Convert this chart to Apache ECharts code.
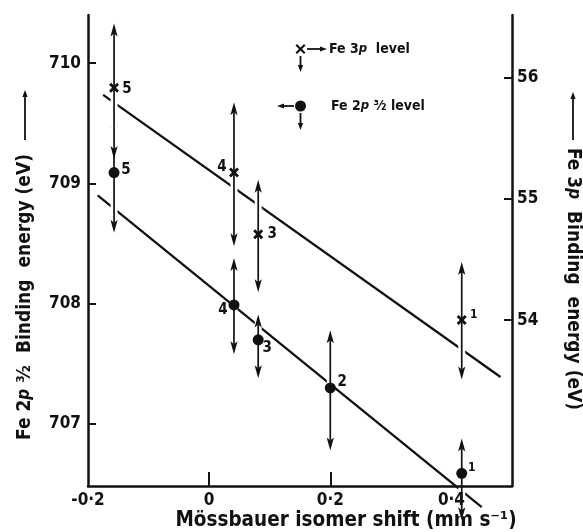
<!DOCTYPE html>
<html>
<head>
    <meta charset="utf-8">
    <title>Fe binding energy vs Mössbauer isomer shift</title>
    <script src="https://cdn.jsdelivr.net/npm/echarts@6/dist/echarts.min.js"></script>
    <style>
        * {
            margin: 0;
            padding: 0
        }

        html, body {
            width: 100%;
            height: 100%;
            background: #fff;
        }

        #main {
            width: 583px;
            height: 532px;
        }
    </style>
</head>
<body>
<div id="main"></div>
<script type="text/javascript">
    /*-------------------- data --------------------*/
    // sample numbers
    var sampleNo = ['1', '2', '3', '4', '5'];
    // Mössbauer isomer shift (mm s-1)
    var isomerShift = [0.417, 0.200, 0.081, 0.041, -0.157];
    // Fe 2p3/2 binding energy (eV), left axis, with error bar ends
    var fe2p = [706.59, 707.30, 707.70, 707.99, 709.09];
    var fe2pHigh = [706.88, 707.78, 707.91, 708.38, 709.57];
    var fe2pLow = [706.20, 706.78, 707.38, 707.58, 708.59];
    // Fe 3p binding energy (eV), right axis (no value for sample 2)
    var fe3pNo = ['1', '3', '4', '5'];
    var fe3pShift = [0.417, 0.081, 0.041, -0.157];
    var fe3p = [54.00, 54.71, 55.22, 55.92];
    var fe3pHigh = [54.48, 55.16, 55.80, 56.45];
    var fe3pLow = [53.51, 54.23, 54.61, 55.33];
    // straight line fits (end points)
    var fit2pX = [-0.184, 0.450];
    var fit2pY = [708.90, 706.31];
    var fit3pX = [-0.175, 0.481];
    var fit3pY = [55.86, 53.53];
    // tick labels
    var xTicks = [-0.2, 0, 0.2, 0.4];
    var xTickMarks = [0, 0.2];
    var leftTicks = [707, 708, 709, 710];
    var rightTicks = [54, 55, 56];

    /*-------------------- styling --------------------*/
    var FONT = "'DejaVu Sans Condensed', 'DejaVu Sans', sans-serif";
    var INK = '#111';
    // label offsets (dx, dy) from each marker
    var dotLabelOffset = [[10, -5], [12, -6], [9, 8], [-11, 5], [12, -2]];
    var dotLabelSize = [12, 15, 15, 15, 15];
    var crossLabelOffset = [[12, -5], [14, 0], [-12, -5], [13, 1]];
    var crossLabelSize = [12, 15, 15, 15];
    var crossPath = 'path://M2,0 L5,3 L8,0 L10,2 L7,5 L10,8 L8,10 L5,7 L2,10 L0,8 L3,5 L0,2 Z';

    function pointItems(xs, ys, names, offsets, sizes, symSize) {
        return xs.map(function (x, i) {
            return {
                name: names[i],
                value: [x, ys[i]],
                label: {
                    position: [offsets[i][0] + symSize / 2, offsets[i][1] + symSize / 2],
                    fontSize: sizes[i]
                }
            };
        });
    }

    // vertical double-headed arrow (error bar)
    function arrowBar(params, api) {
        var x = api.value(0);
        var top = api.coord([x, api.value(2)]);
        var bot = api.coord([x, api.value(1)]);
        var h = 13, w = 3.6;
        return {
            type: 'group',
            children: [
                {
                    type: 'line',
                    shape: {x1: top[0], y1: top[1] + 4, x2: bot[0], y2: bot[1] - 4},
                    style: {stroke: '#fff', lineWidth: 7}
                },
                {
                    type: 'line',
                    shape: {x1: top[0], y1: top[1] + h - 3, x2: bot[0], y2: bot[1] - h + 3},
                    style: {stroke: INK, lineWidth: 1.7}
                },
                {
                    type: 'polygon',
                    shape: {points: [[top[0], top[1]], [top[0] - w, top[1] + h], [top[0], top[1] + h - 3], [top[0] + w, top[1] + h]]},
                    style: {fill: INK}
                },
                {
                    type: 'polygon',
                    shape: {points: [[bot[0], bot[1]], [bot[0] - w, bot[1] - h], [bot[0], bot[1] - h + 3], [bot[0] + w, bot[1] - h]]},
                    style: {fill: INK}
                }
            ]
        };
    }

    function arrowGraphic(x1, y1, x2, y2) {
        // small arrow in the key / axis titles, tip at (x2, y2)
        var dx = x2 - x1, dy = y2 - y1;
        var len = Math.sqrt(dx * dx + dy * dy);
        var ux = dx / len, uy = dy / len;
        var h = 7, w = 2.6;
        var bx = x2 - ux * h, by = y2 - uy * h;
        return [
            {type: 'line', shape: {x1: x1, y1: y1, x2: bx, y2: by}, style: {stroke: INK, lineWidth: 1.8}},
            {
                type: 'polygon',
                shape: {points: [[x2, y2], [bx - uy * w, by + ux * w], [bx + uy * w, by - ux * w]]},
                style: {fill: INK}
            }
        ];
    }

    function crossGraphic(cx, cy, s) {
        // X marker for the key, s = half size
        var t = s * 0.3;
        var pts = [[-s + t, -s], [0, -t], [s - t, -s], [s, -s + t], [t, 0], [s, s - t],
            [s - t, s], [0, t], [-s + t, s], [-s, s - t], [-t, 0], [-s, -s + t]];
        return {
            type: 'polygon',
            shape: {points: pts.map(function (p) { return [cx + p[0], cy + p[1]]; })},
            style: {fill: INK}
        };
    }

    var axisLine = {show: true, onZero: false, lineStyle: {color: INK, width: 2.5}};
    var tickLabel = {fontFamily: FONT, fontWeight: 'bold', fontSize: 17, color: INK};
    var italicP = {fontStyle: 'italic', fontFamily: FONT, fontWeight: 'bold'};

    var chart = echarts.init(document.getElementById('main'));

    var graphics = []
        // key: Fe 3p
        .concat([
            crossGraphic(300.5, 49, 5),
            {type: 'text', x: 329, y: 49, style: {
                    text: 'Fe 3{i|p}  level', fontFamily: FONT, fontWeight: 'bold', fontSize: 14,
                    fill: INK, verticalAlign: 'middle',
                    rich: {i: Object.assign({fontSize: 13}, italicP)}
                }}
        ])
        .concat(arrowGraphic(307, 49, 327, 49))
        .concat(arrowGraphic(300.5, 56, 300.5, 72))
        // key: Fe 2p3/2
        .concat([
            {type: 'circle', shape: {cx: 300.5, cy: 106, r: 5.5}, style: {fill: INK}},
            {type: 'text', x: 331, y: 106, style: {
                    text: 'Fe 2{i|p} ³⁄₂ level', fontFamily: FONT, fontWeight: 'bold', fontSize: 14,
                    fill: INK, verticalAlign: 'middle',
                    rich: {i: Object.assign({fontSize: 13}, italicP)}
                }}
        ])
        .concat(arrowGraphic(294, 106, 277, 106))
        .concat(arrowGraphic(300.5, 113, 300.5, 130))
        // left axis title
        .concat([
            {type: 'text', x: 25, y: 297, rotation: Math.PI / 2, style: {
                    text: 'Fe 2{i|p} ³⁄₂  Binding  energy (eV)', fontFamily: FONT, fontWeight: 'bold', fontSize: 19,
                    fill: INK, align: 'center', verticalAlign: 'middle',
                    rich: {i: Object.assign({fontSize: 17}, italicP)}
                }}
        ])
        .concat(arrowGraphic(25, 140, 25, 90))
        // right axis title
        .concat([
            {type: 'text', x: 573, y: 279, rotation: -Math.PI / 2, style: {
                    text: 'Fe 3{i|p}  Binding  energy (eV)', fontFamily: FONT, fontWeight: 'bold', fontSize: 19,
                    fill: INK, align: 'center', verticalAlign: 'middle',
                    rich: {i: Object.assign({fontSize: 17}, italicP)}
                }}
        ])
        .concat(arrowGraphic(573, 140, 573, 92))
        // x axis title
        .concat([
            {type: 'text', x: 346, y: 521, style: {
                    text: 'Mössbauer isomer shift (mm s⁻¹)', fontFamily: FONT, fontWeight: 'bold', fontSize: 20.5,
                    fill: INK, align: 'center', verticalAlign: 'middle'
                }}
        ]);

    chart.setOption({
        animation: false,
        backgroundColor: '#fff',
        grid: {left: 88, right: 71, top: 15, bottom: 46},
        xAxis: {
            type: 'value',
            min: -0.2,
            max: 0.5,
            z: 5,
            axisLine: axisLine,
            splitLine: {show: false},
            axisTick: {show: true, inside: true, length: 14, customValues: xTickMarks, lineStyle: {color: INK, width: 2}},
            axisLabel: Object.assign({
                margin: 6,
                customValues: xTicks,
                formatter: function (v) {
                    return v === 0 ? '0' : String(v).replace('.', '·');
                }
            }, tickLabel)
        },
        yAxis: [
            {
                type: 'value',
                position: 'left',
                min: 706.485,
                max: 710.40,
                z: 5,
                axisLine: axisLine,
                splitLine: {show: false},
                axisTick: {show: true, inside: true, length: 8, customValues: leftTicks, lineStyle: {color: INK, width: 2}},
                axisLabel: Object.assign({margin: 7, customValues: leftTicks}, tickLabel)
            },
            {
                type: 'value',
                position: 'right',
                min: 52.63,
                max: 56.52,
                z: 5,
                axisLine: axisLine,
                splitLine: {show: false},
                axisTick: {show: true, inside: true, length: 8, customValues: rightTicks, lineStyle: {color: INK, width: 2}},
                axisLabel: Object.assign({margin: 5, customValues: rightTicks}, tickLabel)
            }
        ],
        graphic: graphics,
        series: [
            {
                name: 'Fe 2p fit',
                type: 'line',
                yAxisIndex: 0,
                z: 1,
                clip: false,
                symbol: 'none',
                lineStyle: {color: INK, width: 2.3},
                data: fit2pX.map(function (x, i) { return [x, fit2pY[i]]; })
            },
            {
                name: 'Fe 3p fit',
                type: 'line',
                yAxisIndex: 1,
                z: 1,
                clip: false,
                symbol: 'none',
                lineStyle: {color: INK, width: 2.3},
                data: fit3pX.map(function (x, i) { return [x, fit3pY[i]]; })
            },
            {
                name: 'Fe 2p error',
                type: 'custom',
                yAxisIndex: 0,
                z: 2,
                clip: false,
                silent: true,
                renderItem: arrowBar,
                encode: {x: 0, y: [1, 2]},
                data: isomerShift.map(function (x, i) { return [x, fe2pLow[i], fe2pHigh[i]]; })
            },
            {
                name: 'Fe 3p error',
                type: 'custom',
                yAxisIndex: 1,
                z: 2,
                clip: false,
                silent: true,
                renderItem: arrowBar,
                encode: {x: 0, y: [1, 2]},
                data: fe3pShift.map(function (x, i) { return [x, fe3pLow[i], fe3pHigh[i]]; })
            },
            {
                name: 'Fe 2p3/2 level',
                type: 'scatter',
                yAxisIndex: 0,
                z: 3,
                clip: false,
                symbol: 'circle',
                symbolSize: 11,
                itemStyle: {color: INK, opacity: 1},
                label: {
                    show: true, formatter: '{b}', align: 'center', verticalAlign: 'middle',
                    fontFamily: FONT, fontWeight: 'bold', color: INK
                },
                data: pointItems(isomerShift, fe2p, sampleNo, dotLabelOffset, dotLabelSize, 11)
            },
            {
                name: 'Fe 3p level',
                type: 'scatter',
                yAxisIndex: 1,
                z: 3,
                clip: false,
                symbol: crossPath,
                symbolSize: 10,
                itemStyle: {color: INK, opacity: 1},
                label: {
                    show: true, formatter: '{b}', align: 'center', verticalAlign: 'middle',
                    fontFamily: FONT, fontWeight: 'bold', color: INK
                },
                data: pointItems(fe3pShift, fe3p, fe3pNo, crossLabelOffset, crossLabelSize, 10)
            }
        ]
    });
</script>
</body>
</html>
